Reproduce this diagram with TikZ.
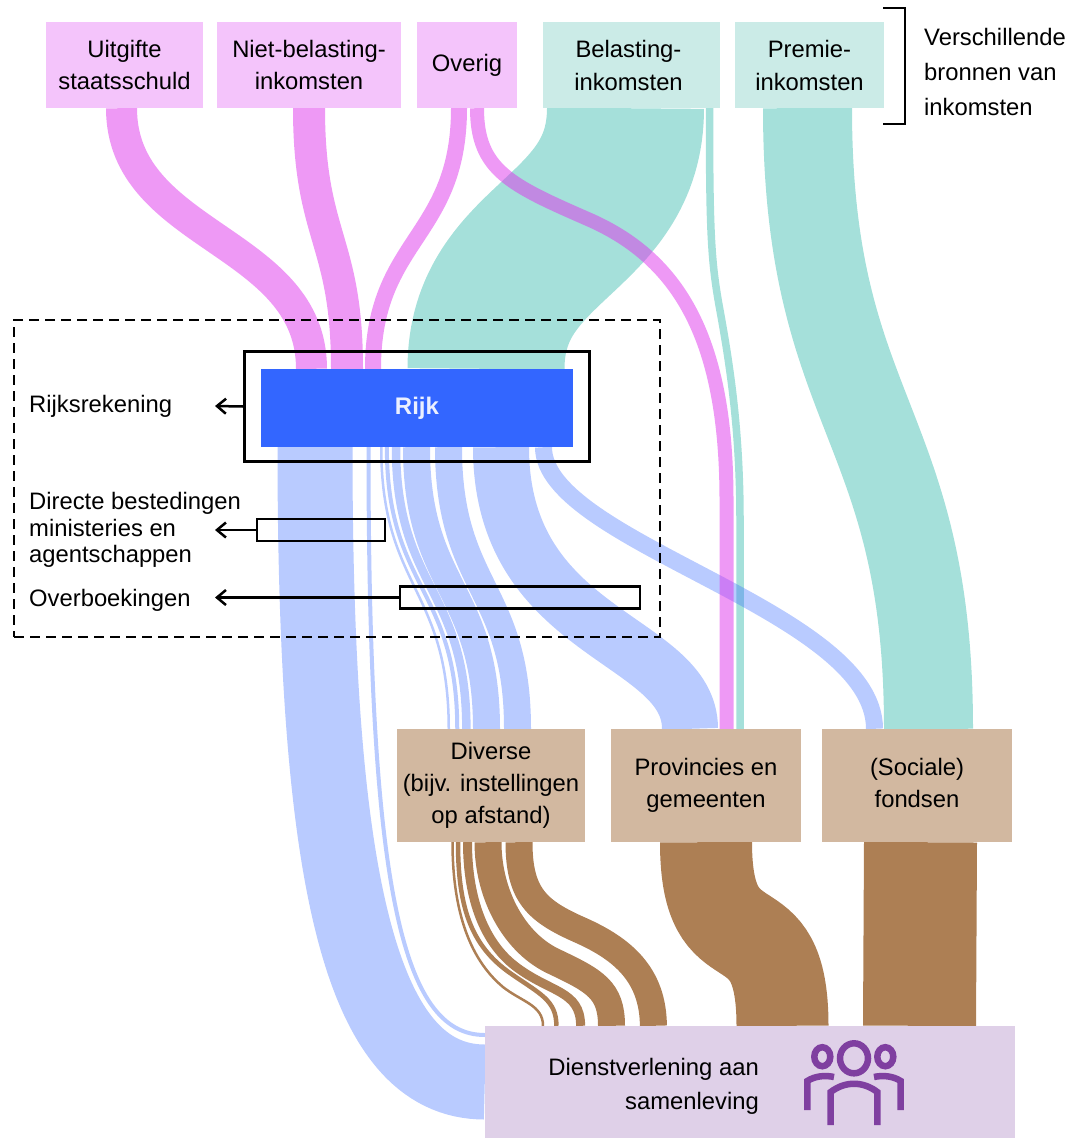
\documentclass[tikz,border=0pt]{standalone}
\usepackage{fontspec}
\setmainfont{Liberation Sans}
\usetikzlibrary{arrows.meta}
\pgfdeclarelayer{flows}
\pgfsetlayers{flows,main}
\definecolor{pinkflow}{HTML}{DD33EB}
\definecolor{pinkbox}{HTML}{F4C4FB}
\definecolor{tealflow}{HTML}{4BC1B5}
\definecolor{tealbox}{HTML}{CBEBE7}
\definecolor{rijkblue}{HTML}{3366FF}
\definecolor{brownflow}{HTML}{AD7F54}
\definecolor{brownbox}{HTML}{D2B8A0}
\definecolor{lilacbox}{HTML}{DFD0E8}
\definecolor{iconpurple}{HTML}{7F3FA0}
\tikzset{
    labeltext/.style={font=\fontsize{23.8}{32}\selectfont},
    box/.style={labeltext, inner sep=0pt, align=center},
    source/.style={box, fill=pinkbox, minimum height=86pt},
    taxsource/.style={box, fill=tealbox, minimum height=86pt, font=\fontsize{23.8}{33}\selectfont},
    receiver/.style={box, fill=brownbox, minimum width=190pt, minimum height=113pt},
    sidelabel/.style={labeltext, inner sep=0pt, align=left, anchor=west},
    frame/.style={draw=black, line width=2.7pt, inner sep=0pt},
    pointer/.style={draw=black, line width=2.5pt, -{Straight Barb[length=9pt, width=15pt]}},
    pink/.style={draw=pinkflow, draw opacity=.5},
    teal/.style={draw=tealflow, draw opacity=.5},
    blue/.style={draw=rijkblue, draw opacity=.343},
    brown/.style={draw=brownflow},
}
\begin{document}
\begin{tikzpicture}[x=1pt, y=-1pt]
    \useasboundingbox (0,0) rectangle (1072,1138);

    % sources
    \node [source, minimum width=157pt] (staatsschuld) at (124.5,65) {Uitgifte\\staatsschuld};
    \node [source, minimum width=184pt] (nietbelasting) at (309,65) {Niet-belasting-\\inkomsten};
    \node [source, minimum width=100pt] (overig) at (467,65) {Overig};
    \node [taxsource, minimum width=177pt] (belasting) at (631.5,65) {Belasting-\kern6pt\\inkomsten\kern6pt};
    \node [taxsource, minimum width=149pt] (premie) at (809.5,65) {Premie-\\inkomsten};

    % rijk and its frames
    \node [fill=rijkblue, minimum width=312pt, minimum height=78pt, inner sep=0pt,
        text=white!90!rijkblue, font=\fontsize{24}{28}\selectfont\bfseries] (rijk) at (417,408) {Rijk};
    \node [frame, minimum width=345pt, minimum height=110pt] (rijkframe) at (417,406.5) {};
    \node [frame, minimum width=128pt, minimum height=22pt] (directframe) at (321,530) {};
    \node [frame, minimum width=240pt, minimum height=22pt] (overboekframe) at (520,597.5) {};
    \node [draw=black, dash pattern=on 10pt off 6pt, line width=2pt, minimum width=646pt, minimum height=317pt, inner sep=0pt] (rijkgroup) at (337,478.5) {};

    % receivers
    \node [receiver, minimum width=188pt] (diverse) at (491,785.5) {Diverse\\(bijv. instellingen\\op afstand)};
    \node [receiver] (provincies) at (706,785.5) {Provincies en\\gemeenten};
    \node [receiver] (fondsen) at (917,785.5) {(Sociale)\\fondsen\vphantom{g}};
    \node [fill=lilacbox, minimum width=530pt, minimum height=112pt, inner sep=0pt] (dienst) at (750,1082) {};
    \node [labeltext, align=right, anchor=east, inner sep=0pt, font=\fontsize{23.8}{34}\selectfont] (dienstlabel) at (759,1086) {Dienstverlening aan\\samenleving};

    % side labels
    \node [sidelabel] (rijksrekening) at (29,406) {Rijksrekening};
    \node [sidelabel, font=\fontsize{23.8}{26.5}\selectfont] (directlabel) at (29,530) {Directe bestedingen\\ministeries en\\agentschappen};
    \node [sidelabel] (overboeklabel) at (29,600) {Overboekingen};
    \node [sidelabel, font=\fontsize{23.8}{35}\selectfont] (bronnen) at (924,72) {Verschillende\\bronnen van\\inkomsten};

    \coordinate (rijktip) at (215,406);
    \coordinate (directtip) at (215,530);
    \coordinate (overboektip) at (215,597.5);
    \draw [pointer] (rijkframe.west) -- (rijktip);
    \draw [pointer] (directframe.west) -- (directtip);
    \draw [pointer] (overboekframe.west) -- (overboektip);
    \draw [line width=1.7pt] (883,8) -- (905,8) -- (905,124) -- (883,124);

    % people icon
    \begin{scope}[draw=iconpurple, line width=6.5pt]
        \draw (854,1058.3) ellipse (14 and 15);
        \draw (822.3,1056.7) ellipse (8 and 9.5);
        \draw (885.3,1056.7) ellipse (8 and 9.5);
        \draw (830.7,1125) -- (830.7,1092) .. controls (845,1081) and (863,1081) .. (877.3,1092) -- (877.3,1125);
        \draw (807.3,1110) -- (807.3,1081) .. controls (815,1076) and (825,1075) .. (834,1077);
        \draw (900.7,1110) -- (900.7,1081) .. controls (893,1076) and (883,1075) .. (874,1077);
    \end{scope}

    \begin{pgfonlayer}{flows}
        % tax and premium money
        \draw [teal, line width=157pt] ([xshift=-6pt]belasting.south) .. controls +(0,130) and +(0,-130) .. ([xshift=69pt]rijk.north);
        \draw [teal, line width=7.5pt] ([xshift=78pt]belasting.south) .. controls +(0,122) and (711,260) .. (719,305) .. controls (730,365) and (740,430) .. (740,520) -- ([xshift=34pt]provincies.north);
        \draw [teal, line width=89pt] ([xshift=-2pt]premie.south) .. controls +(0,310) and +(0,-310) .. ([xshift=11.5pt]fondsen.north);

        % out of rijk
        \draw [blue, line width=75pt] ([xshift=-102pt]rijk.south) .. controls +(0,433) and (360,1082) .. (dienst.west);
        \draw [blue, line width=4pt] ([xshift=-48.5pt]rijk.south) .. controls +(0,433) and (400,1035) .. ([yshift=47pt]dienst.west);
        \draw [blue, line width=2.5pt] ([xshift=-35.75pt]rijk.south) .. controls +(0,141) and +(0,-141) .. ([xshift=-42.25pt]diverse.north);
        \draw [blue, line width=4pt] ([xshift=-30.15pt]rijk.south) .. controls +(0,141) and +(0,-141) .. ([xshift=-33.75pt]diverse.north);
        \draw [blue, line width=8.5pt] ([xshift=-21pt]rijk.south) .. controls +(0,141) and +(0,-141) .. ([xshift=-24.65pt]diverse.north);
        \draw [blue, line width=27pt] ([xshift=-.5pt]rijk.south) .. controls +(0,141) and +(0,-141) .. ([xshift=-4.5pt]diverse.north);
        \draw [blue, line width=27pt] ([xshift=31.5pt]rijk.south) .. controls +(0,141) and +(0,-141) .. ([xshift=26.5pt]diverse.north);
        \draw [blue, line width=56pt] ([xshift=84pt]rijk.south) .. controls +(0,190) and +(0,-92) .. ([xshift=-16pt]provincies.north);
        \draw [blue, line width=17pt] ([xshift=126.5pt]rijk.south) .. controls +(0,95) and +(0,-119) .. ([xshift=-42.5pt]fondsen.north);

        % into rijk
        \draw [pink, line width=31pt] ([xshift=-3pt]staatsschuld.south) .. controls +(0,130) and +(0,-130) .. ([xshift=-105.5pt]rijk.north);
        \draw [pink, line width=32pt] (nietbelasting.south) .. controls +(0,130) and +(0,-130) .. ([xshift=-70pt]rijk.north);
        \draw [pink, line width=16pt] ([xshift=-8pt]overig.south) .. controls +(0,130) and +(0,-130) .. ([xshift=-44pt]rijk.north);
        \draw [pink, line width=14pt] ([xshift=10pt]overig.south) .. controls +(0,62) and (510,185) .. (590,220) .. controls (680,260) and (726.5,340) .. (726.5,500) -- ([xshift=20.5pt]provincies.north);

        % to the public
        \draw [brown, line width=2.5pt] ([xshift=-38.5pt]diverse.south) .. controls +(0,63) and (467,957) .. (503,987) .. controls (522,1002) and (543,1005) .. ([xshift=-207pt]dienst.north);
        \draw [brown, line width=4.5pt] ([xshift=-33pt]diverse.south) .. controls +(0,63) and (470,945) .. (510,973) .. controls (540,994) and (556.4,1000) .. ([xshift=-193.6pt]dienst.north);
        \draw [brown, line width=9pt] ([xshift=-23.5pt]diverse.south) .. controls +(0,58) and (485,943) .. (515,966) .. controls (550,993) and (580.6,990) .. ([xshift=-169.4pt]dienst.north);
        \draw [brown, line width=27pt] ([xshift=-3pt]diverse.south) .. controls +(0,53) and (515,944) .. (555,962) .. controls (595,981) and (611.5,990) .. ([xshift=-138.5pt]dienst.north);
        \draw [brown, line width=27pt] ([xshift=28pt]diverse.south) .. controls +(0,53) and (537,911) .. (580,930) .. controls (623,949) and (653,975) .. ([xshift=-96.6pt]dienst.north);
        \draw [brown, line width=92pt] (provincies.south) .. controls +(0,134) and +(0,-134) .. ([xshift=32.5pt]dienst.north);
        \draw [brown, line width=113pt] ([xshift=3.5pt]fondsen.south) -- ([xshift=169.5pt]dienst.north);
    \end{pgfonlayer}
\end{tikzpicture}
\end{document}
